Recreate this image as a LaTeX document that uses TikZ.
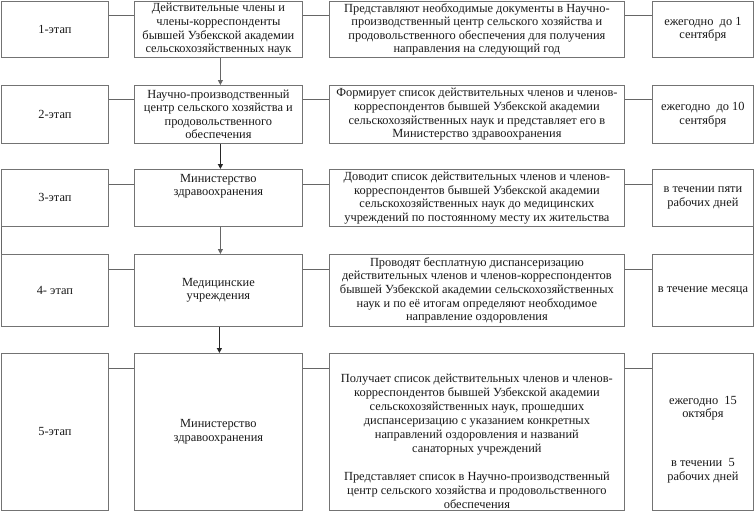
\documentclass[tikz,border=0pt]{standalone}
\usepackage{fontspec}
\setmainfont{Liberation Serif}
\newfontfamily\tnr{Liberation Serif}
\usetikzlibrary{arrows.meta}
\begin{document}
\begin{tikzpicture}[x=1pt,y=-1pt,
  box/.style={draw=black!55, line width=0.8pt, anchor=north west, inner sep=1pt, align=center,
    font=\tnr\fontsize{12.4}{13.6}\selectfont, text=black!90},
  lbl/.style={inner sep=0pt, align=center, font=\tnr\fontsize{12.4}{13.6}\selectfont, text=black!90},
  link/.style={draw=black!60, line width=0.9pt},
  arr/.style={draw=black!60, line width=0.9pt, -{Triangle[length=5pt,width=5pt]}},
  arrd/.style={draw=black!85, line width=1.3pt, -{Triangle[length=5pt,width=5pt]}}
]
\useasboundingbox (0,0) rectangle (754,511);
% column 1
\node[box, minimum width=107pt, minimum height=56pt] (a1) at (1,1) {1-этап};
\node[box, minimum width=107pt, minimum height=58pt] (a2) at (1,85) {2-этап};
\node[box, minimum width=107pt, minimum height=57pt] (a3) at (1,169) {3-этап};
\node[box, minimum width=107pt, minimum height=72pt] (a4) at (1,254) {4- этап};
\node[box, minimum width=107pt, minimum height=157pt] (a5) at (1,353) {5-этап};
% column 2
\node[box, minimum width=168pt, minimum height=56pt] (b1) at (134,1) {Действительные члены и\\члены-корреспонденты\\бывшей Узбекской академии\\сельскохозяйственных наук};
\node[box, minimum width=168pt, minimum height=58pt] (b2) at (134,85) {Научно-производственный\\центр сельского хозяйства и\\продовольственного\\обеспечения};
\node[box, minimum width=168pt, minimum height=57pt] (b3) at (134,169) {};
\node[lbl, anchor=north] (b3t) at ([yshift=-5pt]b3.north) {Министерство\\здравоохранения};
\node[box, minimum width=168pt, minimum height=72pt] (b4) at (134,254) {Медицинские\\учреждения};
\node[box, minimum width=168pt, minimum height=157pt] (b5) at (134,353) {Министерство\\здравоохранения};
% column 3
\node[box, minimum width=295pt, minimum height=56pt] (c1) at (329,1) {Представляют необходимые документы в Научно-\\производственный центр сельского хозяйства и\\продовольственного обеспечения для получения\\направления на следующий год};
\node[box, minimum width=295pt, minimum height=58pt] (c2) at (329,85) {Формирует список действительных членов и членов-\\корреспондентов бывшей Узбекской академии\\сельскохозяйственных наук и представляет его в\\Министерство здравоохранения};
\node[box, minimum width=295pt, minimum height=57pt] (c3) at (329,169) {Доводит список действительных членов и членов-\\корреспондентов бывшей Узбекской академии\\сельскохозяйственных наук до медицинских\\учреждений по постоянному месту их жительства};
\node[box, minimum width=295pt, minimum height=72pt] (c4) at (329,254) {Проводят бесплатную диспансеризацию\\действительных членов и членов-корреспондентов\\бывшей Узбекской академии сельскохозяйственных\\наук и по её итогам определяют необходимое\\направление оздоровления};
\node[box, minimum width=295pt, minimum height=157pt] (c5) at (329,353) {};
\node[lbl, anchor=north, font=\tnr\fontsize{12.4}{14}\selectfont] (c5t) at ([yshift=-21pt]c5.north) {Получает список действительных членов и членов-\\корреспондентов бывшей Узбекской академии\\сельскохозяйственных наук, прошедших\\диспансеризацию с указанием конкретных\\направлений оздоровления и названий\\санаторных учреждений\\[14pt]Представляет список в Научно-производственный\\центр сельского хозяйства и продовольственного\\обеспечения};
% column 4
\node[box, minimum width=101pt, minimum height=56pt] (d1) at (652,1) {ежегодно\ \ до 1\\сентября};
\node[box, minimum width=101pt, minimum height=58pt] (d2) at (652,85) {ежегодно\ \ до 10\\сентября};
\node[box, minimum width=101pt, minimum height=57pt] (d3) at (652,169) {в течении пяти\\рабочих дней};
\node[box, minimum width=101pt, minimum height=72pt] (d4) at (652,254) {в течение месяца};
\node[box, minimum width=101pt, minimum height=157pt] (d5) at (652,353) {};
\node[lbl, anchor=north] (d5t) at ([yshift=-43pt]d5.north) {ежегодно\ \ 15\\октября\\[35pt]в течении\ \ 5\\рабочих дней};
% horizontal links
\foreach \r/\s in {1/14,2/14,3/15,4/15,5/15}{
  \draw[link] ([yshift=-\s pt]a\r.north east) -- ([yshift=-\s pt]b\r.north west);
  \draw[link] ([yshift=-\s pt]b\r.north east) -- ([yshift=-\s pt]c\r.north west);
  \draw[link] ([yshift=-\s pt]c\r.north east) -- ([yshift=-\s pt]d\r.north west);
}
% side links
\draw[link] (a3.south west) -- (a4.north west);
\draw[link] (d3.south east) -- (d4.north east);
% arrows
\draw[arr] ([xshift=2pt]b1.south) -- ([xshift=2pt]b2.north);
\draw[arrd] ([xshift=2pt]b2.south) -- ([xshift=2pt]b3.north);
\draw[arr] ([xshift=2pt]b3.south) -- ([xshift=2pt]b4.north);
\draw[arrd] ([xshift=1pt]b4.south) -- ([xshift=1pt]b5.north);
\end{tikzpicture}
\end{document}
